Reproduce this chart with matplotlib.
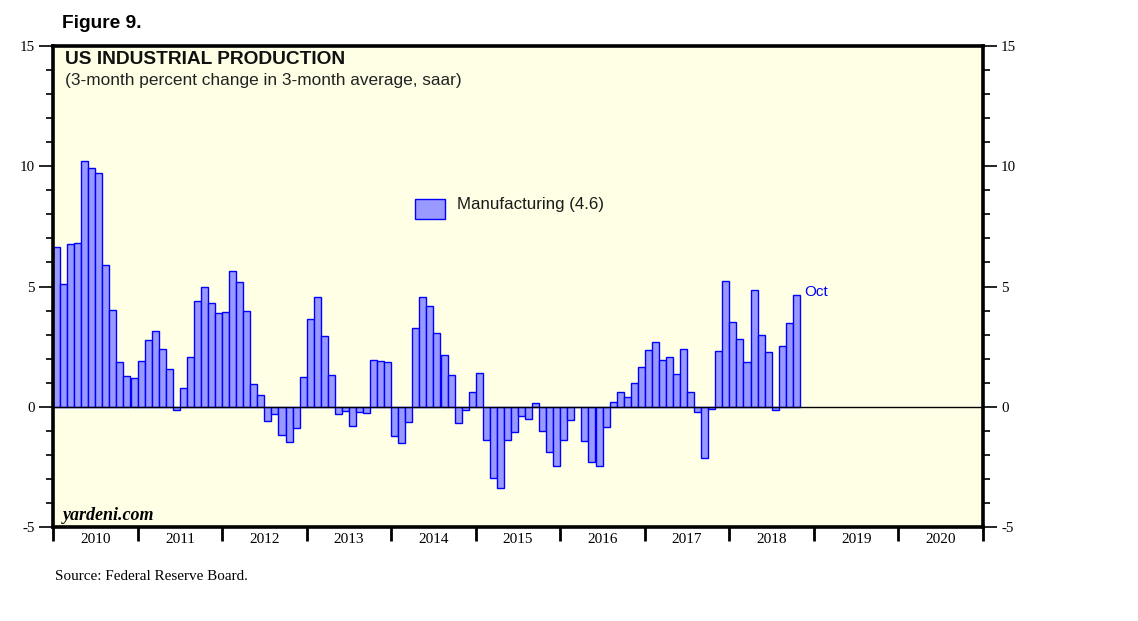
import matplotlib
matplotlib.use("Agg")
import matplotlib.pyplot as plt
import matplotlib.patches as mpatches
import numpy as np

# Monthly values, Jan 2010 .. Oct 2018
values = [
    6.65, 5.11, 6.78, 6.82, 10.23, 9.94, 9.73, 5.90, 4.03, 1.87, 1.29, 1.21,   # 2010
    1.91, 2.79, 3.16, 2.41, 1.58, -0.12, 0.79, 2.08, 4.41, 4.99, 4.32, 3.91,   # 2011
    3.95, 5.65, 5.20, 3.99, 0.96, 0.50, -0.58, -0.29, -1.16, -1.46, -0.87, 1.25,  # 2012
    3.66, 4.57, 2.95, 1.33, -0.29, -0.17, -0.79, -0.21, -0.25, 1.95, 1.91, 1.87,  # 2013
    -1.21, -1.50, -0.62, 3.28, 4.57, 4.20, 3.08, 2.16, 1.33, -0.67, -0.12, 0.62,  # 2014
    1.41, -1.37, -2.95, -3.37, -1.37, -1.04, -0.37, -0.50, 0.17, -1.00, -1.87, -2.45,  # 2015
    -1.37, -0.54, 0.00, -1.41, -2.29, -2.45, -0.83, 0.21, 0.62, 0.42, 1.00, 1.66,  # 2016
    2.37, 2.70, 1.95, 2.08, 1.37, 2.41, 0.62, -0.21, -2.12, -0.08, 2.33, 5.24,  # 2017
    3.53, 2.83, 1.87, 4.86, 2.99, 2.29, -0.12, 2.54, 3.49, 4.66,               # 2018
]
start_year = 2010
years = list(range(2010, 2021))
year_labels = [str(y) for y in years]
y_ticks = [-5, 0, 5, 10, 15]
legend_label = "Manufacturing (4.6)"
last_month_label = "Oct"

W, H = 1138, 621
fig = plt.figure(figsize=(W / 100, H / 100), dpi=100)
fig.patch.set_facecolor("white")

def fx(px):
    return px / W

def fy(py):
    return 1 - py / H

ax = fig.add_axes([fx(53), fy(527), (983 - 53) / W, (527 - 46) / H])
ax.set_facecolor("#FFFFE6")

xpos = np.array([start_year + i / 12 for i in range(len(values))])
ax.bar(xpos, values, width=1 / 12, align="edge", color="#9999FF",
       edgecolor="#0000FF", linewidth=1.0, zorder=2)
ax.axhline(0, color="black", linewidth=1.0, zorder=3)

ax.set_xlim(2010, 2021)
ax.set_ylim(-5, 15)

for s in ax.spines.values():
    s.set_linewidth(2.6)
    s.set_color("black")
    s.set_zorder(4)

serif = ["Liberation Serif", "DejaVu Serif"]

# x axis: ticks at year boundaries, labels centered
ax.set_xticks(list(range(2010, 2022)))
ax.set_xticklabels([])
ax.set_xticks([y + 0.5 for y in years], minor=True)
ax.set_xticklabels(year_labels, minor=True, fontfamily=serif, fontsize=11)
ax.tick_params(axis="x", which="major", direction="out", length=10, width=2)
ax.tick_params(axis="x", which="minor", length=0, pad=4)

# y axis both sides
ax.set_yticks(y_ticks)
ax.set_yticks([v for v in range(-5, 16) if v % 5 != 0], minor=True)
ax.set_yticklabels([str(v) for v in y_ticks], fontfamily=serif, fontsize=10.8)
ax.tick_params(axis="y", which="major", direction="out", length=10, width=1.2,
               left=True, right=True, labelleft=True, labelright=True, pad=3)
ax.tick_params(axis="y", which="minor", direction="out", length=5, width=1.2,
               left=True, right=True)

# Text
fig.text(fx(62), fy(24), "Figure 9.", fontsize=13.8, fontweight="bold",
         family="Liberation Sans", va="center", ha="left")
fig.text(fx(65), fy(60), "US INDUSTRIAL PRODUCTION", fontsize=13.8, fontweight="bold",
         family="Liberation Sans", va="center", ha="left", color="#111111")
fig.text(fx(65), fy(81), "(3-month percent change in 3-month average, saar)",
         fontsize=12.4, family="Liberation Sans", va="center", ha="left", color="#222222")

# legend
fig.patches.append(mpatches.Rectangle((fx(415), fy(219)), fx(445) - fx(415), fy(199) - fy(219),
                                      transform=fig.transFigure, facecolor="#9999FF",
                                      edgecolor="#0000FF", linewidth=1.0))
fig.text(fx(457), fy(205), legend_label, fontsize=12.2, family="Liberation Sans",
         va="center", ha="left", color="#1a1a1a")

ax.text(xpos[-1] + 1 / 12 + 0.05, values[-1] + 0.1, last_month_label, color="#0000FF",
        fontsize=11, family="Liberation Sans", va="center", ha="left")

fig.text(fx(63), fy(516), "yardeni.com", fontsize=13, fontweight="bold", fontstyle="italic",
         family=serif, va="center", ha="left")
fig.text(fx(55), fy(577), "Source: Federal Reserve Board.", fontsize=10.9,
         family=serif, va="center", ha="left")

fig.savefig("out.png", dpi=100)
